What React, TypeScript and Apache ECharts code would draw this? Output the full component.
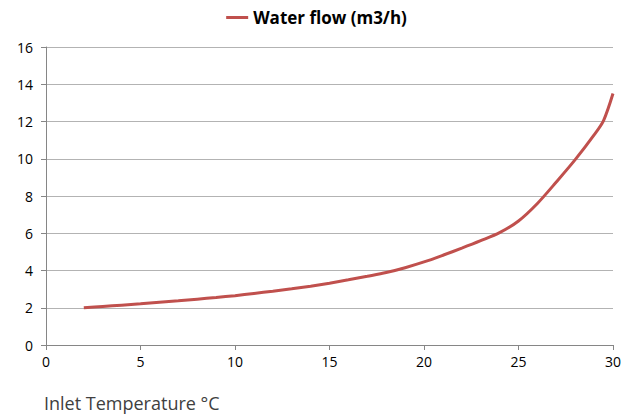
import React, { useEffect, useRef } from "react";
import * as echarts from "echarts";

const temperatures = [2, 3, 4, 5, 6, 7, 8, 9, 10, 11, 12, 13, 14, 15, 16, 17, 18, 19, 20, 21, 22, 23, 24, 25, 26, 27, 28, 29, 29.5, 30];
const waterFlow = [2.0, 2.07, 2.14, 2.21, 2.29, 2.37, 2.46, 2.55, 2.65, 2.77, 2.89, 3.02, 3.16, 3.32, 3.5, 3.69, 3.89, 4.15, 4.46, 4.82, 5.2, 5.6, 6.03, 6.66, 7.6, 8.75, 9.95, 11.28, 12.05, 13.5];
const seriesName = "Water flow (m3/h)";
const xAxisTitle = "Inlet Temperature °C";

export default function App() {
  const ref = useRef<HTMLDivElement>(null);
  useEffect(() => {
    if (!ref.current) return;
    const chart = echarts.init(ref.current, undefined, { renderer: "svg" });
    const font = "'Open Sans', 'Liberation Sans', sans-serif";
    chart.setOption({
      animation: false,
      backgroundColor: "#ffffff",
      textStyle: { fontFamily: font },
      legend: {
        top: 4,
        left: "center",
        itemWidth: 22,
        itemHeight: 3,
        itemGap: 10,
        icon: "rect",
        textStyle: { fontSize: 17, fontWeight: "bold", color: "#000", fontFamily: font },
        data: [{ name: seriesName }],
      },
      grid: { left: 46, right: 20, top: 47, bottom: 73, containLabel: false },
      xAxis: {
        type: "value",
        min: 0,
        max: 30,
        interval: 5,
        axisLine: { lineStyle: { color: "#868686", width: 1 } },
        axisTick: { show: true, length: 5, lineStyle: { color: "#868686" } },
        axisLabel: { color: "#000", fontSize: 14, margin: 9, fontFamily: font },
        splitLine: { show: false },
      },
      yAxis: {
        type: "value",
        min: 0,
        max: 16,
        interval: 2,
        axisLine: { show: true, lineStyle: { color: "#868686", width: 1 } },
        axisTick: { show: true, length: 5, lineStyle: { color: "#868686" } },
        axisLabel: { color: "#000", fontSize: 14, margin: 13, fontFamily: font },
        splitLine: { show: true, lineStyle: { color: "#b3b3b3", width: 1 } },
      },
      graphic: [
        {
          type: "text",
          left: 44,
          top: 394,
          style: { text: xAxisTitle, fontSize: 18, fill: "#404040", fontFamily: font },
        },
      ],
      series: [
        {
          name: seriesName,
          type: "line",
          smooth: 0.3,
          showSymbol: false,
          symbol: "none",
          data: temperatures.map((t, i) => [t, waterFlow[i]]),
          lineStyle: { color: "#c0504d", width: 3 },
          itemStyle: { color: "#c0504d" },
        },
      ],
    });
    return () => chart.dispose();
  }, []);
  return <div ref={ref} style={{ width: 633, height: 418, position: "absolute", left: 0, top: 0 }} />;
}
